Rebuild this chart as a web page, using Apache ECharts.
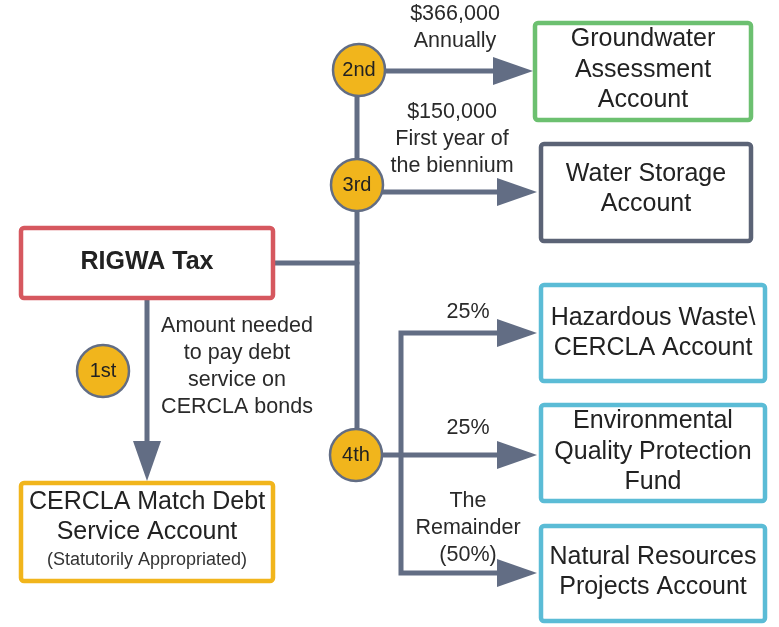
<!DOCTYPE html>
<html>
<head>
<meta charset="utf-8">
<script src="https://cdn.jsdelivr.net/npm/echarts@6/dist/echarts.min.js"></script>
<style>
  html, body { margin: 0; padding: 0; background: #fff; }
  #chart { width: 779px; height: 627px; }
</style>
</head>
<body>
<div id="chart"></div>
<script>
// --- Diagram content ---
var boxTitles = [
  'RIGWA Tax',
  'Groundwater\nAssessment\nAccount',
  'Water Storage\nAccount',
  'Hazardous Waste\\\nCERCLA Account',
  'Environmental\nQuality Protection\nFund',
  'Natural Resources\nProjects Account',
  'CERCLA Match Debt\nService Account'
];
var boxNotes = ['', '', '', '', '', '', '(Statutorily Appropriated)'];
var stepNames = ['1st', '2nd', '3rd', '4th'];
var flowNotes = [
  '$366,000\nAnnually',
  '$150,000\nFirst year of\nthe biennium',
  'Amount needed\nto pay debt\nservice on\nCERCLA bonds',
  '25%',
  '25%',
  'The\nRemainder\n(50%)'
];

// --- Layout (diagram units = pixels of the 779x627 canvas) ---
var boxRects = [
  [19, 226, 275, 300],
  [533, 21, 753, 122],
  [539, 142, 753, 243],
  [539, 283, 767, 383],
  [539, 403, 767, 503],
  [539, 524, 767, 623],
  [19, 481, 275, 583]
];
var boxTextY = [262, 70, 189, 333, 452, 572, 517];
var boxColors = ['#d6585f', '#6cc070', '#5b6376', '#5bbcd6', '#5bbcd6', '#5bbcd6', '#f1b51c'];
var stepPos = [[103, 371], [359, 70], [357, 185], [356, 455]];
var notePos = [[455, 28], [452, 139], [237, 367], [468, 312], [468, 428], [468, 528]];
var linkPaths = [
  [[275, 263], [357, 263]],
  [[357, 70], [357, 455]],
  [[380, 71], [533, 71]],
  [[380, 192], [537, 192]],
  [[356, 455], [537, 455]],
  [[401, 455], [401, 333], [537, 333]],
  [[401, 455], [401, 573], [537, 573]],
  [[147, 300], [147, 481]]
];
var linkArrow = [false, false, true, true, true, true, true, true];

var lineColor = '#626d84';
var inkColor = '#222';
var fontFamily = 'Liberation Sans';

var chart = echarts.init(document.getElementById('chart'), null, { renderer: 'canvas' });

function renderLink(params, api) {
  var pts = linkPaths[params.dataIndex].map(function(p) { return api.coord(p); });
  var children = [];
  var headLen = 40, headHalf = 14;
  if (linkArrow[params.dataIndex]) {
    var tip = pts[pts.length - 1];
    var prev = pts[pts.length - 2];
    var dx = tip[0] - prev[0], dy = tip[1] - prev[1];
    var len = Math.sqrt(dx * dx + dy * dy);
    var ux = dx / len, uy = dy / len;
    var base = [tip[0] - ux * headLen, tip[1] - uy * headLen];
    pts = pts.slice(0, -1).concat([[base[0] + ux * 2, base[1] + uy * 2]]);
    children.push({
      type: 'polygon',
      shape: { points: [
        tip,
        [base[0] - uy * headHalf, base[1] + ux * headHalf],
        [base[0] + uy * headHalf, base[1] - ux * headHalf]
      ] },
      style: { fill: lineColor }
    });
  }
  children.unshift({
    type: 'polyline',
    shape: { points: pts },
    style: { stroke: lineColor, lineWidth: 5, fill: null, lineJoin: 'miter', lineCap: 'round' }
  });
  return { type: 'group', children: children };
}

function renderBox(params, api) {
  var i = params.dataIndex;
  var r = boxRects[i];
  var p1 = api.coord([r[0], r[1]]);
  var p2 = api.coord([r[2], r[3]]);
  var cx = (p1[0] + p2[0]) / 2;
  var ty = api.coord([0, boxTextY[i]])[1];
  var children = [{
    type: 'rect',
    shape: { x: p1[0] + 2, y: p1[1] + 2, width: p2[0] - p1[0] - 4, height: p2[1] - p1[1] - 4, r: 3 },
    style: { fill: '#fff', stroke: boxColors[i], lineWidth: 4.5 }
  }, {
    type: 'text',
    style: {
      text: boxTitles[i], x: cx, y: ty, align: 'center', verticalAlign: 'middle',
      fontFamily: fontFamily, fontSize: 25, fontWeight: i === 0 ? 'bold' : 'normal',
      lineHeight: 30.5, fill: inkColor
    }
  }];
  if (boxNotes[i]) {
    children.push({
      type: 'text',
      style: {
        text: boxNotes[i], x: cx, y: api.coord([0, r[3] - 23])[1], align: 'center', verticalAlign: 'middle',
        fontFamily: fontFamily, fontSize: 18, fill: '#333'
      }
    });
  }
  return { type: 'group', children: children };
}

function renderNote(params, api) {
  var p = api.coord(notePos[params.dataIndex]);
  return {
    type: 'text',
    style: {
      text: flowNotes[params.dataIndex], x: p[0], y: p[1], align: 'center', verticalAlign: 'middle',
      fontFamily: fontFamily, fontSize: 21.5, lineHeight: 27, fill: '#2a2a2a'
    }
  };
}

chart.setOption({
  animation: false,
  grid: { left: 0, right: 0, top: 0, bottom: 0 },
  xAxis: { type: 'value', min: 0, max: 779, show: false },
  yAxis: { type: 'value', min: 0, max: 627, inverse: true, show: false },
  series: [
    {
      type: 'custom',
      renderItem: renderLink,
      data: linkPaths.map(function(p, i) { return [p[0][0], p[0][1], i]; }),
      z: 1
    },
    {
      type: 'custom',
      renderItem: renderBox,
      data: boxTitles.map(function(t, i) { return [boxRects[i][0], boxRects[i][1], i]; }),
      z: 2
    },
    {
      type: 'custom',
      renderItem: renderNote,
      data: flowNotes.map(function(t, i) { return [notePos[i][0], notePos[i][1], i]; }),
      z: 3
    },
    {
      type: 'scatter',
      symbol: 'circle',
      symbolSize: 52,
      data: stepNames.map(function(s, i) { return [stepPos[i][0], stepPos[i][1], s]; }),
      itemStyle: { color: '#f1b51c', borderColor: lineColor, borderWidth: 2.5, opacity: 1 },
      label: {
        show: true, position: 'inside', color: inkColor, fontSize: 20, fontFamily: fontFamily,
        formatter: function(p) { return p.value[2]; }
      },
      z: 4
    }
  ]
});
window.addEventListener('resize', function() { chart.resize(); });
</script>
</body>
</html>
